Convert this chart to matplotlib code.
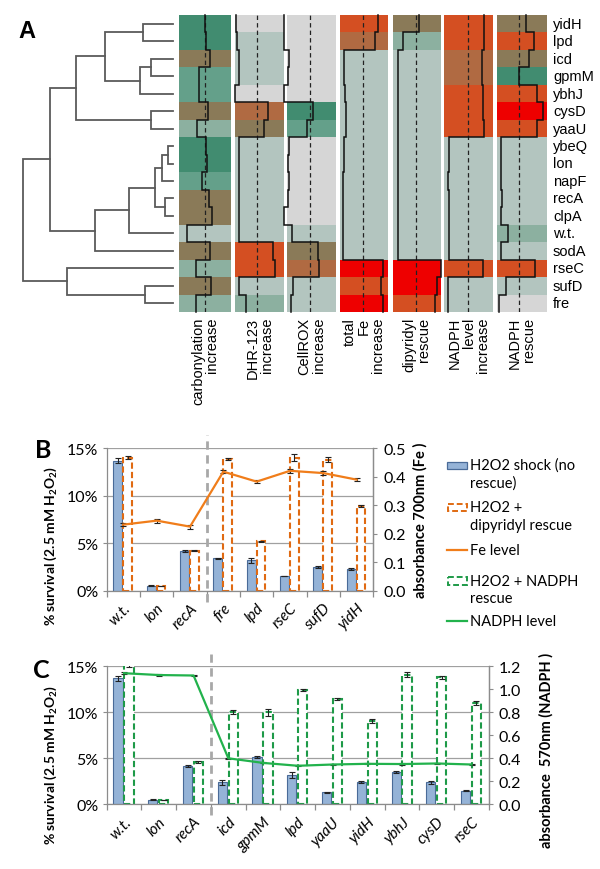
import matplotlib
matplotlib.use('Agg')
import matplotlib.pyplot as plt
import numpy as np
from matplotlib.patches import Rectangle
from matplotlib.ticker import FuncFormatter, FixedLocator

plt.rcParams['font.family'] = ['Lato', 'DejaVu Sans']
plt.rcParams['mathtext.fontset'] = 'custom'
plt.rcParams['mathtext.rm'] = 'Lato'
plt.rcParams['mathtext.bf'] = 'Lato:bold'
plt.rcParams['mathtext.it'] = 'Lato:italic'

# ---------------- data: panel A ----------------
genes = ['yidH', 'lpd', 'icd', 'gpmM', 'ybhJ', 'cysD', 'yaaU', 'ybeQ', 'lon',
         'napF', 'recA', 'clpA', 'w.t.', 'sodA', 'rseC', 'sufD', 'fre']
col_labels = ['carbonylation\nincrease', 'DHR-123\nincrease', 'CellROX\nincrease',
              'total\nFe\nincrease', 'dipyridyl\nrescue', 'NADPH\nlevel\nincrease',
              'NADPH\nrescue']

carbonyl_col = ['DG', 'DG', 'OB', 'MG', 'MG', 'OB', 'GG', 'DG', 'DG', 'MG', 'OB', 'OB', 'LG', 'OB', 'GG', 'OB', 'GG']
dhr_col = ['GR', 'LG', 'LG', 'LG', 'GR', 'BR', 'OB', 'LG', 'LG', 'LG', 'LG', 'LG', 'LG', 'OR', 'OR', 'LG', 'GG']
cellrox_col = ['GR', 'GR', 'GR', 'GR', 'GR', 'DG', 'MG', 'GR', 'GR', 'GR', 'GR', 'GR', 'LG', 'OB', 'BR', 'LG', 'LG']
fe_col = ['OR', 'BR', 'LG', 'LG', 'LG', 'LG', 'LG', 'LG', 'LG', 'LG', 'LG', 'LG', 'LG', 'LG', 'RD', 'OR', 'RD']
dip_col = ['OB', 'GG', 'LG', 'LG', 'LG', 'LG', 'LG', 'LG', 'LG', 'LG', 'LG', 'LG', 'LG', 'LG', 'RD', 'RD', 'OR']
nlevel_col = ['OR', 'OR', 'BR', 'BR', 'OR', 'OR', 'OR', 'LG', 'LG', 'LG', 'LG', 'LG', 'LG', 'LG', 'OR', 'LG', 'LG']
nrescue_col = ['OB', 'OR', 'OB', 'DG', 'OR', 'RD', 'OR', 'LG', 'LG', 'LG', 'LG', 'LG', 'GG', 'LG', 'OR', 'LG', 'GR']

carbonyl_val = [0.50, 0.52, 0.60, 0.39, 0.39, 0.56, 0.35, 0.52, 0.53, 0.44, 0.58, 0.63, 0.15, 0.60, 0.33, 0.61, 0.33]
dhr_val = [0.02, 0.05, 0.075, 0.09, 0.0, 0.68, 0.59, 0.09, 0.08, 0.08, 0.08, 0.08, 0.09, 0.78, 0.82, 0.09, 0.22]
cellrox_val = [-0.06, -0.06, 0.03, 0.01, -0.06, 0.52, 0.40, 0.04, 0.01, 0.03, 0.01, -0.06, 0.10, 0.63, 0.66, 0.12, 0.08]
fe_val = [0.78, 0.73, 0.083, 0.083, 0.097, 0.124, 0.124, 0.083, 0.083, 0.069, 0.069, 0.055, 0.055, 0.055, 0.90, 0.85, 0.90]
dip_val = [0.55, 0.22, 0.12, 0.12, 0.11, 0.11, 0.11, 0.10, 0.10, 0.10, 0.10, 0.10, 0.10, 0.10, 1.0, 0.92, 0.88]
nlevel_val = [0.80, 0.80, 0.76, 0.76, 0.78, 0.78, 0.80, 0.10, 0.10, 0.07, 0.10, 0.10, 0.10, 0.10, 0.78, 0.07, 0.07]
nrescue_val = [0.58, 0.75, 0.65, 0.45, 0.81, 0.92, 0.81, 0.08, 0.08, 0.09, 0.10, 0.09, 0.23, 0.09, 0.77, 0.18, 0.05]
ref_val = [0.50, 0.455, 0.47, 0.47, 0.48, 0.49, 0.45]

# dendrogram merges: (child a, child b, height); children are gene names or merge ids
merges = [
    ('yidH', 'lpd', 29.4), ('icd', 'gpmM', 21.7), (1, 'ybhJ', 32.7), (0, 2, 67.4),
    ('cysD', 'yaaU', 22.0), (3, 4, 96.7), ('ybeQ', 'lon', 4.4), (6, 'napF', 10.4),
    ('recA', 'clpA', 8.0), (7, 8, 18.0), (9, 'w.t.', 43.4), (10, 'sodA', 78.0),
    (5, 11, 122.7), ('sufD', 'fre', 28.0), ('rseC', 13, 106.0), (12, 14, 149.4),
]

# ---------------- data: panel B ----------------
b_names = ['w.t.', 'lon', 'recA', 'fre', 'lpd', 'rseC', 'sufD', 'yidH']
b_shock = [13.7, 0.5, 4.2, 3.4, 3.2, 1.55, 2.5, 2.3]
b_shock_err = [0.25, 0.05, 0.12, 0.08, 0.25, 0.05, 0.12, 0.07]
b_dip = [14.0, 0.5, 4.2, 13.9, 5.2, 14.0, 13.8, 8.9]
b_dip_err = [0.15, 0.03, 0.05, 0.12, 0.05, 0.35, 0.25, 0.12]
b_fe = [0.232, 0.246, 0.225, 0.418, 0.383, 0.421, 0.413, 0.390]
b_fe_err = [0.004, 0.007, 0.007, 0.005, 0.005, 0.008, 0.007, 0.005]

# ---------------- data: panel C ----------------
c_names = ['w.t.', 'lon', 'recA', 'icd', 'gpmM', 'lpd', 'yaaU', 'yidH', 'ybhJ', 'cysD', 'rseC']
c_shock = [13.7, 0.5, 4.2, 2.4, 5.1, 3.2, 1.3, 2.4, 3.5, 2.4, 1.5]
c_shock_err = [0.3, 0.05, 0.12, 0.25, 0.1, 0.3, 0.08, 0.1, 0.12, 0.15, 0.05]
c_nadph = [15.2, 0.47, 4.6, 10.0, 10.0, 12.4, 11.45, 9.05, 14.1, 13.8, 11.0]
c_nadph_err = [0.3, 0.05, 0.12, 0.2, 0.35, 0.1, 0.1, 0.2, 0.25, 0.15, 0.2]
c_level = [1.14, 1.124, 1.12, 0.40, 0.36, 0.335, 0.346, 0.352, 0.35, 0.355, 0.346]
c_level_err = [0.008, 0.006, 0.008, 0.005, 0.005, 0.005, 0.005, 0.005, 0.005, 0.005, 0.005]

# ---------------- styles ----------------
pal = {'DG': '#418c70', 'MG': '#64a08a', 'GG': '#8cb0a0', 'LG': '#b3c5bf', 'GR': '#d6d6d6',
       'OB': '#8a7a58', 'BR': '#b06a42', 'OR': '#d44f22', 'RD': '#ee0000'}
BLUE, BLUE_E = '#95b3d7', '#4a6b98'
ORANGE_D, ORANGE_L = '#e06a12', '#f07d1a'
GREEN_D, GREEN_L = '#1e9a48', '#22b24c'
GRID = '#a0a0a0'
SPINE = '#8c8c8c'
ARIAL = 'Liberation Sans'

W, H = 600, 870
fig = plt.figure(figsize=(W / 100, H / 100), dpi=100)


def ax_px(x0, y0, x1, y1):
    return fig.add_axes([x0 / W, 1 - y1 / H, (x1 - x0) / W, (y1 - y0) / H])


# ---------------- panel A heatmap ----------------
n = len(genes)
col_x = [(179, 231), (235, 284), (287.3, 336), (340, 388.3), (392.7, 440.7), (444.3, 493.3), (496.7, 546.7)]
row_top, row_bot = 16, 313
colors_all = [carbonyl_col, dhr_col, cellrox_col, fe_col, dip_col, nlevel_col, nrescue_col]
vals_all = [carbonyl_val, dhr_val, cellrox_val, fe_val, dip_val, nlevel_val, nrescue_val]
for (x0, x1), cols, vals, ref in zip(col_x, colors_all, vals_all, ref_val):
    ax = ax_px(x0, row_top, x1, row_bot)
    ax.set_xlim(0, 1)
    ax.set_ylim(n, 0)
    ax.axis('off')
    for i, c in enumerate(cols):
        ax.add_patch(Rectangle((0, i), 1, 1, facecolor=pal[c], edgecolor='none'))
    ax.axvline(ref, color='#222222', lw=0.9, ls=(0, (3.5, 2.5)))
    xs = np.repeat(vals, 2)
    ys = np.array([[i, i + 1] for i in range(n)]).ravel()
    ax.plot(xs, ys, color='#111111', lw=1.1, clip_on=False, solid_joinstyle='miter')

# dendrogram
dax = ax_px(20, row_top, 172.7, row_bot)
dax.set_xlim(152.7, 0)
dax.set_ylim(n, 0)
dax.axis('off')
pos = {}
for i, g in enumerate(genes):
    pos[g] = (i + 0.5, 0.0)
for k, (a, b, h) in enumerate(merges):
    ya, ha = pos[a]
    yb, hb = pos[b]
    dax.plot([ha, h, h, hb], [ya, ya, yb, yb], color='#5a5a5a', lw=1.3,
             solid_joinstyle='miter', clip_on=False)
    pos[k] = ((ya + yb) / 2, h)

# overlay for free text / legend
ov = fig.add_axes([0, 0, 1, 1])
ov.set_xlim(0, W)
ov.set_ylim(H, 0)
ov.axis('off')
ov.patch.set_visible(False)

row_h = (row_bot - row_top) / n
for i, g in enumerate(genes):
    ov.text(553, row_top + (i + 0.5) * row_h, g, ha='left', va='center',
            fontsize=10.5, family=ARIAL)
for (x0, x1), lab in zip(col_x, col_labels):
    ov.text((x0 + x1) / 2, 318, lab, rotation=90, ha='center', va='top',
            multialignment='right', fontsize=10.5, family=ARIAL, linespacing=1.0)
ov.text(27, 31, 'A', fontsize=17, fontweight='bold', ha='center', va='center', family=ARIAL)
ov.text(43, 451, 'B', fontsize=18, fontweight='bold', ha='center', va='center')
ov.text(41, 671, 'C', fontsize=18, fontweight='bold', ha='center', va='center')


def style_bar_axes(ax, ax2, names, ymax, r_ticks, r_max):
    k = len(names)
    ax.set_xlim(-0.5, k - 0.5)
    ax.set_ylim(0, ymax)
    ax.set_yticks([0, 5, 10, 15])
    ax.yaxis.set_major_formatter(FuncFormatter(lambda v, p: '%d%%' % v))
    ax.set_axisbelow(True)
    ax.yaxis.grid(True, color=GRID, lw=0.9)
    ax.set_xticks(np.arange(k))
    ax.set_xticklabels(names, rotation=45, ha='right', rotation_mode='anchor',
                       style='italic', fontsize=11)
    ax.xaxis.set_minor_locator(FixedLocator(np.arange(-0.5, k, 1)))
    ax.tick_params(axis='x', which='major', length=0, pad=7)
    ax.tick_params(axis='x', which='minor', length=4, color=SPINE, width=0.9)
    ax.tick_params(axis='y', length=3, color=SPINE, labelsize=11.5, pad=3)
    for s in ['top']:
        ax.spines[s].set_visible(False)
    for s in ['left', 'bottom', 'right']:
        ax.spines[s].set_color(SPINE)
        ax.spines[s].set_linewidth(0.9)
    ax2.set_ylim(0, r_max)
    ax2.set_yticks(r_ticks)
    ax2.yaxis.set_major_formatter(FuncFormatter(lambda v, p: '%.1f' % v))
    ax2.tick_params(axis='y', length=3, color=SPINE, labelsize=11.5, pad=4)
    for s in ['top', 'left', 'bottom']:
        ax2.spines[s].set_visible(False)
    ax2.spines['right'].set_color(SPINE)
    ax2.spines['right'].set_linewidth(0.9)
    # vertical dashed separator
    ax.plot([2.5, 2.5], [-0.08 * ymax, 1.09 * ymax], color='#a8a8a8', lw=2,
            ls=(0, (3, 2)), clip_on=False, zorder=1)


ekw = dict(ecolor='#222222', elinewidth=0.8, capsize=2.2, capthick=0.8)

# ---------------- panel B ----------------
axB = ax_px(106.7, 449.3, 373.3, 591.7)
axB2 = axB.twinx()
xb = np.arange(len(b_names))
axB.bar(xb - 0.165, b_shock, width=0.27, color=BLUE, edgecolor=BLUE_E, lw=0.8,
        yerr=b_shock_err, error_kw=ekw, zorder=2)
axB.bar(xb + 0.13, b_dip, width=0.26, facecolor='white', edgecolor=ORANGE_D, lw=1.5,
        ls=(0, (3, 1.5)), yerr=b_dip_err, error_kw=ekw, zorder=2)
style_bar_axes(axB, axB2, b_names, 15, [0, 0.1, 0.2, 0.3, 0.4, 0.5], 0.5)
axB2.errorbar(xb, b_fe, yerr=b_fe_err, color=ORANGE_L, lw=1.6, **ekw)

# ---------------- panel C ----------------
axC = ax_px(106.7, 667.3, 489, 805.3)
axC2 = axC.twinx()
xc = np.arange(len(c_names))
axC.bar(xc - 0.175, c_shock, width=0.26, color=BLUE, edgecolor=BLUE_E, lw=0.8,
        yerr=c_shock_err, error_kw=ekw, zorder=2)
axC.bar(xc + 0.14, c_nadph, width=0.27, facecolor='white', edgecolor=GREEN_D, lw=1.5,
        ls=(0, (3, 1.5)), yerr=c_nadph_err, error_kw=ekw, zorder=2)
style_bar_axes(axC, axC2, c_names, 15, [0, 0.2, 0.4, 0.6, 0.8, 1.0, 1.2], 1.2)
axC2.errorbar(xc, c_level, yerr=c_level_err, color=GREEN_L, lw=1.6, **ekw)

# axis titles
ylab = '% survival (2.5 mM $\\mathbf{H_2O_2}$)'
ov.text(51, 546, ylab, rotation=90, ha='center', va='center', fontsize=10, fontweight='bold')
ov.text(51, 765, ylab, rotation=90, ha='center', va='center', fontsize=10, fontweight='bold')
ov.text(420, 520, 'absorbance 700nm (Fe )', rotation=90, ha='center', va='center',
        fontsize=10.5, fontweight='bold')
ov.text(546, 750, 'absorbance  570nm (NADPH )', rotation=90, ha='center', va='center',
        fontsize=10.5, fontweight='bold')

# legend
ov.add_patch(Rectangle((447, 462.5), 20, 7, facecolor=BLUE, edgecolor=BLUE_E, lw=0.9))
ov.text(470, 466, 'H2O2 shock (no', va='center', fontsize=10.5)
ov.text(470, 484, 'rescue)', va='center', fontsize=10.5)
ov.add_patch(Rectangle((447.5, 504.5), 19, 7.5, facecolor='white', edgecolor=ORANGE_D,
                       lw=1.4, ls=(0, (3, 1.5))))
ov.text(470, 508, 'H2O2 +', va='center', fontsize=10.5)
ov.text(470, 526, 'dipyridyl rescue', va='center', fontsize=10.5)
ov.plot([447, 467], [550.7, 550.7], color=ORANGE_L, lw=1.6)
ov.text(470, 550.7, 'Fe level', va='center', fontsize=10.5)
ov.add_patch(Rectangle((447.5, 578), 19, 7.5, facecolor='white', edgecolor=GREEN_D,
                       lw=1.4, ls=(0, (3, 1.5))))
ov.text(470, 581.7, 'H2O2 + NADPH', va='center', fontsize=10.5)
ov.text(470, 599.3, 'rescue', va='center', fontsize=10.5)
ov.plot([447, 467], [621.7, 621.7], color=GREEN_L, lw=1.6)
ov.text(470, 621.7, 'NADPH level', va='center', fontsize=10.5)

fig.savefig('out.png', dpi=100, facecolor='white')
